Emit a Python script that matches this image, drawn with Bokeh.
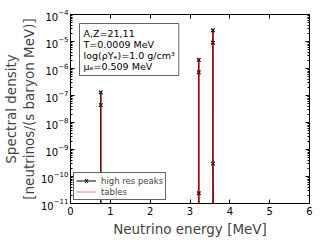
from bokeh.plotting import figure
from bokeh.models import (FixedTicker, CustomJSTickFormatter, LinearAxis, LogAxis, Label,
                          Range1d, Legend, LegendItem, LogTickFormatter)
from bokeh.embed import file_html
from bokeh.resources import INLINE

# high resolution peaks (energy MeV, spectral density)
hr_energy = [0.700, 0.7595, 0.7600, 0.7605, 0.7610, 0.820,
             3.150, 3.2195, 3.2200, 3.2205, 3.2210, 3.290,
             3.500, 3.5745, 3.5750, 3.5755, 3.5760, 3.650]
hr_density = [1e-20, 1e-14, 1.3e-7, 4.4e-8, 1e-14, 1e-20,
              1e-20, 1e-14, 2.1e-6, 7.3e-7, 2.4e-11, 1e-20,
              1e-20, 1e-14, 2.6e-5, 9.0e-6, 3.0e-10, 1e-20]
# tabulated spectrum
tab_energy = [0.700, 0.7590, 0.7592, 0.7594, 0.820,
              3.150, 3.2180, 3.2182, 3.2184, 3.290,
              3.500, 3.5735, 3.5737, 3.5739, 3.650]
tab_density = [1e-20, 1e-20, 1.3e-7, 1e-20, 1e-20,
               1e-20, 1e-20, 2.1e-6, 1e-20, 1e-20,
               1e-20, 1e-20, 2.6e-5, 1e-20, 1e-20]

x_ticks = [0, 1, 2, 3, 4, 5, 6]
y_ticks = [1e-11, 1e-10, 1e-9, 1e-8, 1e-7, 1e-6, 1e-5, 1e-4]
y_minor = [m * 10.0 ** e for e in range(-11, -4) for m in range(2, 10)]

FONT = "DejaVu Sans"

p = figure(width=320, height=240,
           min_border_left=69, min_border_right=11, min_border_top=14, min_border_bottom=37,
           y_axis_type="log", x_range=Range1d(0, 6), y_range=Range1d(1e-11, 1e-4),
           output_backend="svg", toolbar_location=None)
p.grid.visible = False
p.outline_line_color = "black"
p.outline_line_width = 1
p.background_fill_color = "white"
p.border_fill_color = "white"

for ax in p.xaxis:
    ax.ticker = FixedTicker(ticks=x_ticks)
for ax in p.yaxis:
    ax.ticker = FixedTicker(ticks=y_ticks, minor_ticks=y_minor)
    ax.formatter = LogTickFormatter()

def style(ax):
    ax.major_tick_in = 4
    ax.major_tick_out = 0
    ax.minor_tick_in = 2
    ax.minor_tick_out = 0
    ax.axis_line_color = "black"
    ax.major_label_text_font = FONT
    ax.major_label_text_font_size = "10px"
    ax.major_label_text_color = "black"
    ax.axis_label_text_font = FONT
    ax.axis_label_text_font_style = "normal"
    ax.axis_label_text_font_size = "13.5px"
    ax.axis_label_text_line_height = 1.1
    ax.major_label_standoff = 3

p.xaxis.axis_label = "Neutrino energy [MeV]"
p.yaxis.axis_label = "Spectral density\n[neutrinos/(s baryon MeV)]"
p.xaxis.axis_label_standoff = 3
p.yaxis.axis_label_standoff = 1
for ax in p.xaxis + p.yaxis:
    style(ax)
p.yaxis.major_label_standoff = 2

blank = CustomJSTickFormatter(code="return '';")
top = LinearAxis(ticker=FixedTicker(ticks=x_ticks), formatter=blank)
style(top)
top.minor_tick_in = 0
top.major_label_standoff = 0
p.add_layout(top, "above")
right = LogAxis(ticker=FixedTicker(ticks=y_ticks, minor_ticks=y_minor), formatter=blank)
style(right)
right.major_label_standoff = 0
p.add_layout(right, "right")

l1 = p.line(hr_energy, hr_density, color="black", line_width=1)
s1 = p.scatter(hr_energy, hr_density, marker="x", size=5, color="black", line_width=1.2)
l2 = p.line(tab_energy, tab_density, color="red", line_width=1.6, line_dash="1 1", line_alpha=0.7)

legend = Legend(items=[LegendItem(label="high res peaks", renderers=[l1, s1]),
                       LegendItem(label="tables", renderers=[l2])],
                location="bottom_left")
legend.label_text_font = FONT
legend.label_text_font_size = "8.5px"
legend.label_height = 11
legend.glyph_height = 11
legend.glyph_width = 20
legend.spacing = 0
legend.padding = 2
legend.margin = 3
legend.border_line_color = "black"
legend.border_line_alpha = 0.6
legend.label_standoff = 5
p.add_layout(legend)

info = Label(x=9, y=180, x_units="screen", y_units="screen",
             text="A,Z=21,11\nT=0.0009 MeV\nlog(\u03c1Y\u2091)=1.0 g/cm\u00b3\n\u03bc\u2091=0.509 MeV",
             text_font=FONT, text_font_size="9.5px", text_color="black",
             text_baseline="top", text_line_height=1.0,
             border_line_color="black", border_line_alpha=0.6,
             background_fill_color="white", padding=4)
p.add_layout(info)

open("out.html", "w").write(file_html(p, INLINE))
